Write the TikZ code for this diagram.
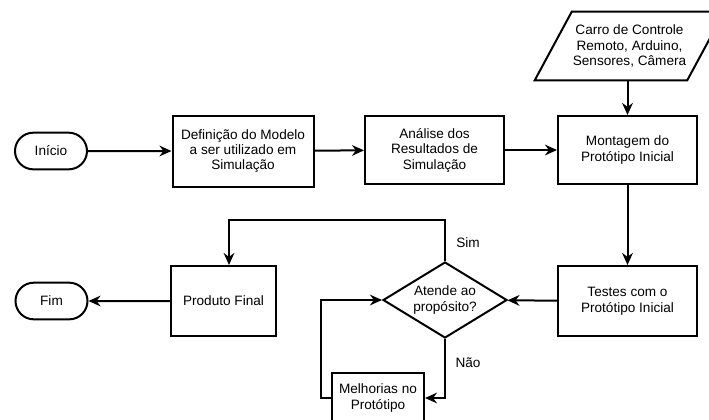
\documentclass[tikz,border=0pt]{standalone}
\usepackage{fontspec}
\setmainfont{Liberation Sans}
\usetikzlibrary{shapes.geometric,shapes.misc,arrows.meta}
\begin{document}
\begin{tikzpicture}[x=0.75pt,y=-0.75pt,
  txt/.style={align=center,font=\fontsize{10.2}{11.6}\selectfont,inner sep=0pt},
  box/.style={txt,draw,line width=1.5pt},
  term/.style={txt,draw,line width=1.5pt,rounded rectangle,minimum width=54pt,minimum height=27.5pt},
  arr/.style={line width=1.5pt,-{Stealth[length=9pt,width=8pt]}},
  plain/.style={line width=1.5pt}]
\clip (0,0) rectangle (709,419);
\useasboundingbox (0,0) rectangle (709,419);

\node[term] (ini) at (51,151) {Início};
\node[box,minimum width=105.75pt,minimum height=53.25pt] (def) at (243,151) {Definição do Modelo\\a ser utilizado em\\Simulação};
\node[box,minimum width=104.25pt,minimum height=51pt] (ana) at (434.5,150) {Análise dos\\Resultados de\\Simulação};
\node[box,minimum width=104.25pt,minimum height=51pt] (mon) at (627.5,150) {Montagem do\\Protótipo Inicial};
\node[txt,minimum width=114pt,minimum height=51pt] (car) at (629.5,46) {Carro de Controle\\Remoto, Arduino,\\Sensores, Câmera};
\draw[plain] ([xshift=-13.875pt]car.south west) -- ([xshift=-13.875pt]car.south east) -- ([xshift=13.875pt]car.north east) -- ([xshift=13.875pt]car.north west) -- cycle;
\node[box,minimum width=104.25pt,minimum height=52.5pt] (tes) at (627.5,301) {Testes com o\\Protótipo Inicial};
\node[box,diamond,aspect=1.63,minimum width=93pt,minimum height=57pt] (dec) at (445,300) {Atende ao\\propósito?};
\node[box,minimum width=78.75pt,minimum height=52.5pt] (prod) at (223.5,301) {Produto Final};
\node[term] (fim) at (51.5,301) {Fim};
\node[box,minimum width=69pt,minimum height=37.5pt] (mel) at (378,398) {Melhorias no\\Protótipo};
\node[txt] (sim) at (468,243) {Sim};
\node[txt] (nao) at (468,363) {Não};
\coordinate (simc) at (229,220);

\draw[arr] (ini) -- (def);
\draw[arr] (def) -- (ana);
\draw[arr] (ana) -- (mon);
\draw[arr] (car.south -| mon.north) -- (mon.north);
\draw[arr] (mon) -- (tes);
\draw[arr] (tes) -- (dec);
\draw[arr] (dec.north) |- (simc) -- (simc |- prod.north);
\draw[arr] (prod) -- (fim);
\draw[arr] (dec.south) |- (mel.east);
\draw[arr] (mel.west) -- ++(-10,0) |- (dec.west);
\end{tikzpicture}
\end{document}
